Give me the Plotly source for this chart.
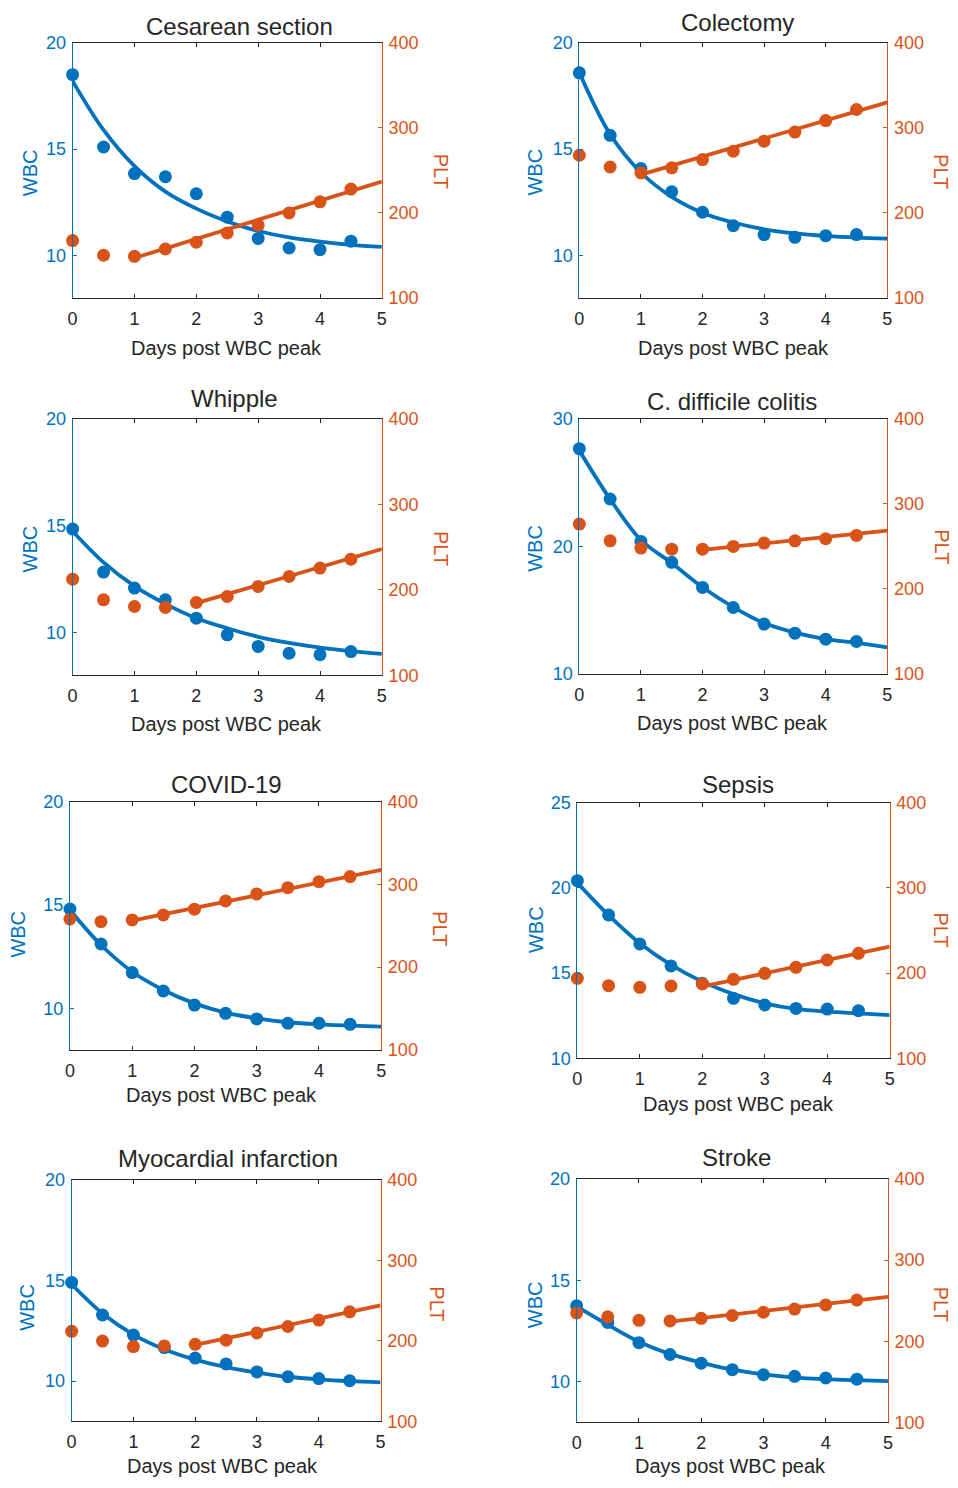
import plotly.graph_objects as go

# ---------------- data ----------------
days = [0, 0.5, 1, 1.5, 2, 2.5, 3, 3.5, 4, 4.5]
fit_days = [0, 0.5, 1, 1.5, 2, 2.5, 3, 3.5, 4, 4.5, 5]

titles = ["Cesarean section", "Colectomy", "Whipple", "C. difficile colitis",
          "COVID-19", "Sepsis", "Myocardial infarction", "Stroke"]

wbc_ranges = [[8, 20], [8, 20], [8, 20], [10, 30], [8, 20], [10, 25], [8, 20], [8, 20]]
wbc_ticks = [[10, 15, 20], [10, 15, 20], [10, 15, 20], [10, 20, 30],
             [10, 15, 20], [10, 15, 20, 25], [10, 15, 20], [10, 15, 20]]
plt_range = [100, 400]
plt_ticks = [100, 200, 300, 400]
day_ticks = [0, 1, 2, 3, 4, 5]

# Cesarean section
cesarean_wbc = [18.5, 15.1, 13.85, 13.7, 12.9, 11.8, 10.8, 10.35, 10.27, 10.67]
cesarean_plt = [167.5, 150.2, 149, 157.6, 165.5, 176.5, 185.5, 200, 213, 228]
cesarean_wbc_fit = [18.2, 15.9, 14.2, 13.0, 12.2, 11.6, 11.15, 10.85, 10.65, 10.5, 10.4]
cesarean_plt_fit_x = [1, 5]
cesarean_plt_fit = [147, 237]

# Colectomy
colectomy_wbc = [18.59, 15.65, 14.09, 12.99, 12.03, 11.4, 10.98, 10.85, 10.93, 10.98]
colectomy_plt = [267.8, 254, 247, 253, 262.7, 272.5, 284.3, 295, 308.6, 321.6]
colectomy_wbc_fit = [18.6, 15.7, 13.9, 12.75, 12.0, 11.55, 11.23, 11.04, 10.92, 10.84, 10.79]
colectomy_plt_fit_x = [1, 5]
colectomy_plt_fit = [245, 330]

# Whipple
whipple_wbc = [14.85, 12.84, 12.09, 11.54, 10.68, 9.9, 9.36, 9.04, 8.97, 9.12]
whipple_plt = [212.7, 188.5, 180.7, 179.6, 185.4, 192.4, 204.1, 215.8, 225.6, 236.1]
whipple_wbc_fit = [14.75, 13.29, 12.18, 11.35, 10.68, 10.21, 9.81, 9.52, 9.30, 9.14, 9.01]
whipple_plt_fit_x = [2, 5]
whipple_plt_fit = [184.6, 247.8]

# C. difficile colitis
cdiff_wbc = [27.65, 23.71, 20.39, 18.75, 16.79, 15.22, 13.92, 13.21, 12.74, 12.56]
cdiff_plt = [276.2, 256.6, 248, 246.8, 246.8, 250, 253.9, 256.6, 259, 262.9]
cdiff_wbc_fit = [27.5, 23.7, 20.5, 18.7, 16.8, 15.25, 14.0, 13.25, 12.75, 12.45, 12.1]
cdiff_plt_fit_x = [2, 5]
cdiff_plt_fit = [246, 268.4]

# COVID-19
covid_wbc = [14.81, 13.12, 11.74, 10.85, 10.17, 9.77, 9.5, 9.29, 9.29, 9.24]
covid_plt = [258.2, 255, 257, 263, 270, 280, 288.4, 296, 303.3, 309.4]
covid_wbc_fit = [14.76, 13.07, 11.78, 10.9, 10.25, 9.8, 9.53, 9.34, 9.24, 9.18, 9.13]
covid_plt_fit_x = [1, 5]
covid_plt_fit = [256.2, 317.4]

# Sepsis
sepsis_wbc = [20.42, 18.41, 16.71, 15.42, 14.4, 13.52, 13.13, 12.93, 12.89, 12.8]
sepsis_plt = [193.9, 185.3, 183.3, 184.9, 187.3, 192.7, 199.8, 206.8, 215.4, 223.2]
sepsis_wbc_fit = [20.3, 18.4, 16.75, 15.48, 14.5, 13.77, 13.23, 12.9, 12.74, 12.64, 12.54]
sepsis_plt_fit_x = [2, 5]
sepsis_plt_fit = [184.1, 231]

# Myocardial infarction
mi_wbc = [14.91, 13.29, 12.29, 11.67, 11.15, 10.86, 10.46, 10.22, 10.13, 10.02]
mi_plt = [212, 199.8, 193, 193.8, 195.8, 201, 210, 218, 226, 236.2]
mi_wbc_fit = [14.82, 13.37, 12.32, 11.59, 11.07, 10.7, 10.43, 10.22, 10.09, 10.0, 9.94]
mi_plt_fit_x = [2, 5]
mi_plt_fit = [195, 244.3]

# Stroke
stroke_wbc = [13.75, 12.93, 11.93, 11.35, 10.92, 10.6, 10.35, 10.27, 10.19, 10.13]
stroke_plt = [235, 230.2, 225.9, 225.1, 228.3, 231.8, 235.8, 239.7, 244.8, 250.8]
stroke_wbc_fit = [13.72, 12.82, 11.98, 11.38, 10.95, 10.6, 10.37, 10.21, 10.13, 10.08, 10.04]
stroke_plt_fit_x = [1.5, 5]
stroke_plt_fit = [224.3, 254.7]

panels = [
    (cesarean_wbc, cesarean_plt, cesarean_wbc_fit, cesarean_plt_fit_x, cesarean_plt_fit),
    (colectomy_wbc, colectomy_plt, colectomy_wbc_fit, colectomy_plt_fit_x, colectomy_plt_fit),
    (whipple_wbc, whipple_plt, whipple_wbc_fit, whipple_plt_fit_x, whipple_plt_fit),
    (cdiff_wbc, cdiff_plt, cdiff_wbc_fit, cdiff_plt_fit_x, cdiff_plt_fit),
    (covid_wbc, covid_plt, covid_wbc_fit, covid_plt_fit_x, covid_plt_fit),
    (sepsis_wbc, sepsis_plt, sepsis_wbc_fit, sepsis_plt_fit_x, sepsis_plt_fit),
    (mi_wbc, mi_plt, mi_wbc_fit, mi_plt_fit_x, mi_plt_fit),
    (stroke_wbc, stroke_plt, stroke_wbc_fit, stroke_plt_fit_x, stroke_plt_fit),
]

# ---------------- layout / style ----------------
W, H = 958, 1488
BLUE = "#0072BD"
ORANGE = "#D95319"
DARK = "#262626"
FONT = "Liberation Sans, Arial, Helvetica, sans-serif"

# target positions, in pixels of the reference picture: left, right, top, bottom
boxes = [
    (72.7, 382.3, 41.7, 296.7), (580, 888.3, 41.7, 296.7),
    (72.7, 382.3, 417.7, 674), (580, 888.3, 417.3, 672.7),
    (70, 381.7, 800, 1048.3), (578, 890.7, 801, 1056.7),
    (71.7, 381, 1178.3, 1419.5), (577.3, 889, 1177.3, 1420.5),
]
title_pos = [(240, 25), (738, 21), (235, 397), (733, 400),
             (227, 783), (739, 783), (228, 1157), (737, 1156)]
xlab_pos = [(227, 347), (734, 347), (227, 722), (733, 721),
            (222, 1093), (739, 1102), (223, 1466), (731, 1477)]
wbc_lab_pos = [(30, 171), (536, 171), (30, 547), (536, 547),
               (18, 932), (536, 928), (27, 1305), (535, 1303)]
plt_lab_pos = [(441, 170), (946, 170), (441, 547), (946, 545),
               (441, 927), (946, 928), (438, 1302), (946, 1302)]

# the photographed picture maps page pixels as  pic = A + S * page;
# invert it so that the picture lands on the reference positions
AX, SX = 5.0, 0.9907
AY, SY = 8.9, 0.986


def page_x(px):
    return (px - AX) / SX


def page_y(py):
    return (py - AY) / SY


def fx(px):
    return page_x(px) / W


def fy(py):
    return 1 - page_y(py) / H


fig = go.Figure()
layout = dict(
    width=W, height=H, margin=dict(l=0, r=0, t=0, b=0),
    paper_bgcolor="white", plot_bgcolor="white", showlegend=False,
    font=dict(family=FONT, color=DARK),
)
annotations = []


def ann(text, px, py, size, color, angle=0, max_px=None, max_py=None):
    x = page_x(px)
    y = page_y(py)
    if max_px is not None:
        x = min(x, max_px)
    if max_py is not None:
        y = min(y, max_py)
    annotations.append(dict(
        text=text, x=x / W, y=1 - y / H, xref="paper", yref="paper",
        xanchor="center", yanchor="middle", showarrow=False, textangle=angle,
        font=dict(family=FONT, size=size, color=color)))


for i, (wbc, plt_v, wbc_fit, plt_fx, plt_fit) in enumerate(panels):
    L, R, T, B = boxes[i]
    xn = "" if i == 0 else str(i + 1)
    yl = 2 * i + 1
    yr = 2 * i + 2
    yln = "" if yl == 1 else str(yl)
    yrn = str(yr)

    layout["xaxis" + xn] = dict(
        domain=[fx(L), fx(R)], anchor="y" + yln, range=[0, 5], tickvals=day_ticks,
        ticks="inside", ticklen=4, tickcolor=DARK, showline=True, linecolor=DARK,
        linewidth=1, mirror="ticks", showgrid=False, zeroline=False,
        tickfont=dict(family=FONT, size=18, color=DARK), ticklabelstandoff=4)
    layout["yaxis" + yln] = dict(
        domain=[fy(B), fy(T)], anchor="x" + xn, range=wbc_ranges[i],
        tickvals=wbc_ticks[i], ticks="inside", ticklen=4, tickcolor=BLUE,
        showline=True, linecolor=BLUE, linewidth=1, showgrid=False, zeroline=False,
        tickfont=dict(family=FONT, size=18, color=BLUE), ticklabelstandoff=2)
    layout["yaxis" + yrn] = dict(
        overlaying="y" + yln, side="right", anchor="x" + xn, range=plt_range,
        tickvals=plt_ticks, ticks="inside", ticklen=4, tickcolor=ORANGE,
        showline=True, linecolor=ORANGE, linewidth=1, showgrid=False, zeroline=False,
        tickfont=dict(family=FONT, size=18, color=ORANGE), ticklabelstandoff=2)

    xa = "x" + xn
    fig.add_trace(go.Scatter(x=fit_days, y=wbc_fit, mode="lines", xaxis=xa, yaxis="y" + yln,
                             line=dict(color=BLUE, width=3.8, shape="spline"),
                             cliponaxis=False, hoverinfo="skip"))
    fig.add_trace(go.Scatter(x=days, y=wbc, mode="markers", xaxis=xa, yaxis="y" + yln,
                             marker=dict(color=BLUE, size=13), cliponaxis=False))
    fig.add_trace(go.Scatter(x=plt_fx, y=plt_fit, mode="lines", xaxis=xa, yaxis="y" + yrn,
                             line=dict(color=ORANGE, width=3.8),
                             cliponaxis=False, hoverinfo="skip"))
    fig.add_trace(go.Scatter(x=days, y=plt_v, mode="markers", xaxis=xa, yaxis="y" + yrn,
                             marker=dict(color=ORANGE, size=13), cliponaxis=False))

    ann(titles[i], *title_pos[i], 24, DARK, max_py=H - 16)
    ann("Days post WBC peak", *xlab_pos[i], 20, DARK, max_py=H - 12)
    ann("WBC", *wbc_lab_pos[i], 20, BLUE, -90)
    ann("PLT", *plt_lab_pos[i], 20, ORANGE, 90, max_px=W - 12)

layout["annotations"] = annotations
fig.update_layout(**layout)
fig.write_html(
    "out.html",
    config={"displayModeBar": False},
    post_script="document.body.style.margin='0';document.body.style.overflow='hidden';",
)
